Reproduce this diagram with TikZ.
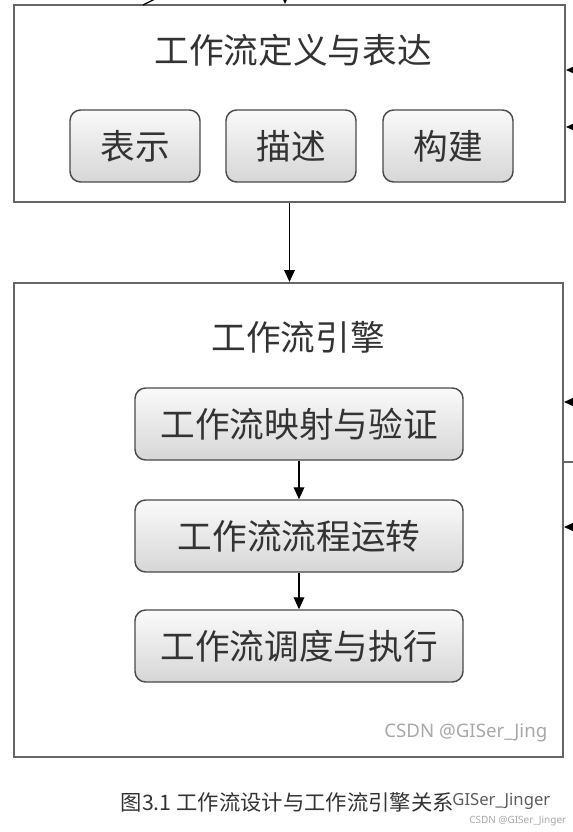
\documentclass[tikz,border=0pt]{standalone}
\usepackage{fontspec}
\setmainfont{Noto Sans CJK SC}
\newfontfamily\markfont{Noto Sans}
\usetikzlibrary{arrows.meta}

\definecolor{framegray}{HTML}{666666}
\definecolor{boxline}{HTML}{4A4A4A}
\definecolor{boxtop}{HTML}{FAFAFA}
\definecolor{boxbot}{HTML}{D6D6D6}
\definecolor{textgray}{HTML}{333333}
\definecolor{markgray}{HTML}{A8A8A8}

\begin{document}
\begin{tikzpicture}
  [x=0.75pt,y=-0.75pt,
   every node/.style={text=textgray,font=\fontsize{26pt}{30pt}\selectfont},
   frame/.style={draw=framegray,line width=1.5pt,fill=white},
   part/.style={draw=boxline,line width=1.1pt,rounded corners=8pt,
     top color=boxtop,bottom color=boxbot,minimum height=54pt},
   arr/.style={-{Triangle[width=8pt,length=9pt]},line width=1pt,black}]
  \useasboundingbox (0,0) rectangle (573,832);

  % outer frames
  \node[frame,minimum width=413.25pt,minimum height=147.75pt] (defbox) at (289.5,103.5) {};
  \node[frame,minimum width=411.75pt,minimum height=355.5pt] (engine) at (288.5,520) {};

  % definition part
  \node (deftitle) at (293,50) {工作流定义与表达};
  \node[part,minimum width=97.5pt] (show) at (135,146) {表示};
  \node[part,minimum width=97.5pt] (desc) at (291,146) {描述};
  \node[part,minimum width=97.5pt] (build) at (448,146) {构建};

  % engine part
  \node (engtitle) at (298,337) {工作流引擎};
  \node[part,minimum width=246pt] (map) at (299,424) {工作流映射与验证};
  \node[part,minimum width=246pt] (run) at (299,536) {工作流流程运转};
  \node[part,minimum width=246pt] (sched) at (299,646) {工作流调度与执行};

  \draw[arr] (defbox.south) -- (defbox.south |- engine.north);
  \foreach \from/\to in {map/run, run/sched}
    \draw[arr] (\from) -- (\to);

  % cut-off connectors at the edges
  \coordinate (tin) at (285,-40);
  \draw[arr] (tin) -- (tin |- defbox.north);
  \coordinate (tdiag) at (163,-5);
  \coordinate (tdiagend) at (143,5);
  \draw[line width=1pt] (tdiag) -- (tdiagend);
  \foreach \y/\n in {70/ra, 127/rb} {
    \coordinate (\n) at (600,\y);
    \draw[arr] (\n) -- (\n -| defbox.east);
  }
  \foreach \y/\n in {402/rc, 527/rd} {
    \coordinate (\n) at (600,\y);
    \draw[arr] (\n) -- (\n -| engine.east);
  }
  \coordinate (re) at (600,462);
  \draw[framegray,line width=1pt] (re) -- (re -| engine.east);

  % captions and marks
  \node[text=markgray,font=\markfont\fontsize{14pt}{16pt}\selectfont,anchor=east] (mark) at (552,733) {CSDN @GISer\_Jing};
  \node[font=\fontsize{16pt}{19pt}\selectfont,anchor=west] (caption) at (116,802) {图3.1 工作流设计与工作流引擎关系};
  \node[text=textgray!80,font=\markfont\fontsize{12.5pt}{15pt}\selectfont,anchor=east] (capmark) at (555,801) {GISer\_Jinger};
  \node[text=markgray,font=\markfont\fontsize{7.5pt}{9pt}\selectfont,anchor=east] (corner) at (571,821) {CSDN @GISer\_Jinger};
\end{tikzpicture}
\end{document}
